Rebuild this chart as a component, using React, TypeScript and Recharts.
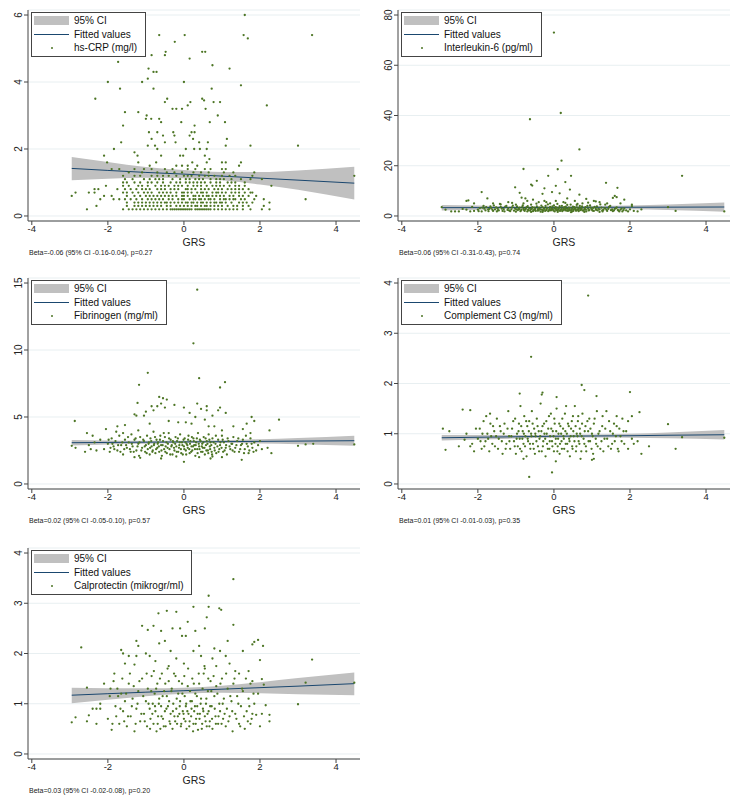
import React from 'react';
import { ComposedChart, Area, Line, Scatter, XAxis, YAxis, CartesianGrid } from 'recharts';

const FONT = '"Liberation Sans", Arial, Helvetica, sans-serif';
const DOT = '#4c7524';
const LINE = '#1a476f';
const BAND = '#c0c0c0';
const GRID = '#e8eff1';
const AXIS = '#444';

const grsTicks = [-4, -2, 0, 2, 4];
const fitX = [-2.95, -2, -1, 0, 1, 2, 3, 4.48];

// hs-CRP (mg/l)
const crpFit = [1.42, 1.36, 1.30, 1.25, 1.19, 1.13, 1.07, 0.98];
const crpLo = [1.07, 1.11, 1.14, 1.13, 1.07, 0.94, 0.78, 0.49];
const crpHi = [1.76, 1.61, 1.46, 1.37, 1.31, 1.31, 1.36, 1.47];
const crpUpper: number[][] = [
  [1.6, 6.0], [-0.65, 5.4], [0.02, 5.4], [1.57, 5.4], [3.37, 5.4], [1.68, 5.3], [-0.24, 5.2],
  [-0.48, 4.9], [-0.5, 4.8], [0.48, 4.9], [0.56, 4.9], [0.15, 4.7], [-0.85, 4.8], [-1.73, 4.6],
  [0.75, 4.5], [-0.93, 4.4], [-0.8, 4.3], [-0.72, 4.3], [1.2, 4.4], [-2.0, 4.0], [-1.1, 4.0],
  [-0.95, 4.1], [0.0, 4.0], [1.5, 3.9], [-1.68, 3.8], [-0.8, 3.8], [0.73, 3.8], [-2.33, 3.5],
  [-0.44, 3.5], [-0.5, 3.4], [0.17, 3.4], [0.48, 3.5], [0.53, 3.45], [0.78, 3.4], [0.95, 3.4],
  [2.18, 3.3], [-0.3, 3.2], [-0.2, 3.2], [-0.05, 3.2], [0.1, 3.3], [0.57, 3.2], [-1.55, 3.1],
  [-1.2, 3.1], [-0.98, 3.0], [-1.0, 2.9], [-0.86, 2.9], [-0.65, 2.9], [0.89, 3.0], [-1.6, 2.7],
  [-0.6, 2.8], [-0.07, 2.8], [0.28, 2.7], [0.68, 2.8], [1.08, 2.8], [-0.92, 2.5], [-0.7, 2.5],
  [-0.28, 2.5], [0.2, 2.5], [0.28, 2.5], [0.15, 2.4], [-1.65, 2.2], [-0.85, 2.3], [-0.55, 2.4],
  [-0.25, 2.4], [-0.5, 2.2], [0.24, 2.3], [0.4, 2.2], [0.63, 2.2], [1.13, 2.3], [-0.22, 2.2],
  [-1.84, 2.0], [-0.95, 2.1], [-0.76, 2.1], [-0.7, 2.0], [0.05, 2.0], [0.27, 2.0], [0.42, 2.0],
  [0.6, 2.0], [1.1, 2.1], [1.75, 2.1], [3.0, 2.1], [-2.1, 1.8], [-1.3, 1.9], [-1.22, 1.8],
  [-0.6, 1.8], [-0.1, 1.8], [-0.02, 1.8], [0.55, 1.8], [0.67, 1.7], [-2.02, 1.6], [-1.2, 1.6],
  [-0.9, 1.5], [-0.73, 1.6], [-0.2, 1.5], [0.1, 1.5], [0.22, 1.6], [0.6, 1.6], [1.0, 1.6],
  [1.1, 1.6], [1.5, 1.6], [1.45, 1.5], [-0.05, 1.5], [0.35, 1.5],
];
const crpRows: [number, number[]][] = [
  [0.2, [-2.55, -1.6, -1.45, -1.35, -1.25, -1.15, -1.05, -0.95, -0.85, -0.75, -0.65, -0.55, -0.45, -0.35, -0.3, -0.25, -0.2, -0.15, -0.1, -0.05, 0, 0.05, 0.1, 0.15, 0.2, 0.3, 0.35, 0.4, 0.45, 0.5, 0.55, 0.6, 0.65, 0.7, 0.8, 0.9, 1.0, 1.1, 1.2, 1.3, 1.4, 1.55, 1.75, 2.05, 2.25]],
  [0.3, [-2.3, -1.5, -1.3, -1.1, -0.9, -0.8, -0.6, -0.45, -0.2, 0.0, 0.2, 0.35, 0.45, 0.6, 0.8, 1.0, 1.15, 1.4, 1.7]],
  [0.3, [-1.2, -1.0, -0.7, -0.35, -0.1, 0.1, 0.3, 0.55, 0.7, 0.9, 1.3, 1.55, 2.1]],
  [0.4, [-1.3, -1.1, -1.0, -0.8, -0.6, -0.5, -0.35, -0.25, -0.05, 0.1, 0.25, 0.35, 0.5, 0.6, 0.7, 0.85, 1.0, 1.1, 1.25, 1.45, 1.55, 1.65, 1.8, 2.25]],
  [0.4, [-1.5, -1.2, -0.9, -0.7, -0.45, -0.15, 0.05, 0.2, 0.45, 0.8, 0.95]],
  [0.5, [-2.2, -1.85, -1.7, -1.4, -1.25, -1.1, -0.95, -0.75, -0.55, -0.4, -0.3, -0.15, 0.0, 0.15, 0.3, 0.45, 0.55, 0.7, 0.8, 0.95, 1.05, 1.2, 1.35, 1.5, 1.6, 1.85, 2.1, 3.2]],
  [0.5, [-1.55, -0.85, -0.65, -0.05, 0.25, 0.4, 0.65, 1.1, 1.3]],
  [0.6, [-2.95, -2.1, -1.9, -1.5, -1.3, -1.0, -0.8, -0.6, -0.4, -0.2, -0.05, 0.1, 0.25, 0.4, 0.5, 0.65, 0.85, 1.05, 1.3, 1.55, 1.7]],
  [0.6, [-1.15, -0.9, -0.7, -0.5, -0.3, 0.0, 0.3, 0.6, 0.75, 0.95, 1.2, 1.45, 1.9]],
  [0.7, [-2.85, -2.5, -2.35, -1.6, -1.35, -1.2, -1.05, -0.85, -0.65, -0.55, -0.35, -0.2, -0.05, 0.1, 0.2, 0.35, 0.5, 0.6, 0.75, 0.9, 1.1, 1.25, 1.45, 1.75, 1.8]],
  [0.7, [-1.5, -0.95, -0.45, 0.0, 0.45, 0.85, 1.0, 1.35, 1.6]],
  [0.8, [-2.35, -2.25, -1.75, -1.55, -1.25, -1.1, -0.9, -0.7, -0.5, -0.35, -0.15, 0.05, 0.2, 0.3, 0.45, 0.65, 0.8, 1.0, 1.15, 1.35, 1.55, 1.7]],
  [0.8, [-1.4, -1.0, -0.6, -0.25, 0.1, 0.55, 0.9, 1.25, 1.45]],
  [0.9, [-2.05, -1.45, -1.2, -0.95, -0.75, -0.6, -0.4, -0.25, -0.05, 0.1, 0.25, 0.45, 0.6, 0.75, 0.95, 1.2, 1.45, 1.6, 2.3]],
  [0.9, [-1.6, -1.1, -0.5, -0.15, 0.35, 0.85, 1.05, 1.35]],
  [1.0, [-1.6, -1.5, -1.15, -0.95, -0.85, -0.55, -0.35, -0.1, 0.05, 0.25, 0.45, 0.55, 0.7, 0.95, 1.15, 1.35, 1.6]],
  [1.0, [-1.3, -0.7, -0.2, 0.15, 0.35, 0.85, 1.25]],
  [1.1, [-1.35, -1.05, -0.9, -0.75, -0.55, -0.3, -0.1, 0.15, 0.3, 0.5, 0.7, 0.85, 1.05, 1.25, 1.5, 1.75, 2.05]],
  [1.1, [-1.55, -0.65, 0.05, 0.4, 0.95]],
  [1.2, [-1.6, -1.3, -1.15, -0.85, -0.55, -0.4, -0.2, 0.0, 0.2, 0.4, 0.55, 0.8, 1.0, 1.2, 1.8, 4.48]],
  [1.2, [-0.7, 0.1, 0.65, 1.35]],
  [1.3, [-1.45, -1.1, -0.7, -0.45, -0.25, -0.05, 0.25, 0.45, 0.65, 1.05, 1.3, 1.85]],
  [1.4, [-1.9, -1.7, -1.3, -1.05, -0.85, -0.5, -0.3, 0.1, 0.3, 0.55, 0.7, 1.0, 1.1]],
];

// Interleukin-6 (pg/ml)
const il6Fit = [3.30, 3.33, 3.36, 3.40, 3.44, 3.47, 3.51, 3.57];
const il6Lo = [2.2, 2.5, 2.8, 2.9, 2.9, 2.7, 2.4, 1.7];
const il6Hi = [4.4, 4.2, 3.9, 3.9, 4.0, 4.2, 4.6, 5.4];
const il6Points: number[][] = [
  [0.0, 73], [0.18, 41], [-0.63, 38.5], [0.67, 26.5], [0.2, 22], [-0.8, 18.7], [0.1, 18.6],
  [-0.15, 16], [0.45, 16], [3.37, 16], [-0.45, 14], [0.3, 13.5], [1.37, 13.2], [-0.6, 12.5],
  [-0.57, 12.1], [0.05, 12], [-1.02, 11.4], [-0.25, 11], [1.67, 11.2], [-1.9, 9.5], [-0.9, 9.2],
  [-0.05, 9.5], [0.15, 9.0], [-0.3, 8.8], [0.42, 10.5], [0.67, 8.5], [1.6, 8.0], [1.65, 7.5],
  [-0.85, 7.3], [-0.75, 7.0], [-1.75, 7.0], [0.35, 7.0], [0.85, 6.8], [1.55, 7.2], [1.85, 6.5],
  [-2.3, 6.0], [-2.25, 6.2], [-2.1, 5.0], [-1.6, 5.0], [-1.2, 5.5], [-0.7, 6.0], [-0.55, 6.5],
  [-0.4, 5.5], [-0.25, 6.0], [0.05, 6.0], [0.25, 5.5], [0.55, 6.0], [0.75, 5.0], [1.05, 6.0],
  [1.1, 5.8], [1.2, 5.5], [1.4, 5.0], [1.75, 5.0], [-1.4, 4.6], [-1.0, 4.5], [-0.1, 5.0],
  [2.05, 4.5], [1.35, 4.5], [3.0, 3.5], [3.2, 2.0], [4.48, 1.8], [-2.95, 3.5], [-2.85, 2.5],
  [-2.6, 1.8], [-2.5, 1.8], [-2.3, 2.5], [-2.2, 1.8],
  [-2.0, 2.5], [-1.95, 3.1], [-1.9, 1.8], [-1.85, 4.0], [-1.8, 2.2], [-1.78, 3.5], [-1.72, 1.9],
  [-1.7, 2.8], [-1.65, 3.2], [-1.6, 2.0], [-1.58, 4.2], [-1.55, 2.6], [-1.5, 1.8], [-1.48, 3.0],
  [-1.45, 2.2], [-1.4, 3.6], [-1.35, 2.0], [-1.32, 2.7], [-1.3, 1.8], [-1.25, 4.0], [-1.22, 2.4],
  [-1.2, 3.1], [-1.15, 1.9], [-1.12, 2.6], [-1.1, 3.4], [-1.05, 2.1], [-1.02, 2.9], [-1.0, 1.7],
  [-0.97, 3.8], [-0.95, 2.3], [-0.92, 2.7], [-0.9, 3.3], [-0.88, 1.9], [-0.85, 2.5], [-0.82, 4.2],
  [-0.8, 3.0], [-0.77, 2.0], [-0.75, 2.6], [-0.72, 3.5], [-0.7, 1.8], [-0.68, 2.4], [-0.65, 3.1],
  [-0.62, 2.1], [-0.6, 4.5], [-0.58, 2.8], [-0.55, 1.9], [-0.52, 3.3], [-0.5, 2.5], [-0.48, 2.0],
  [-0.45, 3.8], [-0.42, 2.7], [-0.4, 2.2], [-0.38, 3.0], [-0.35, 1.7], [-0.32, 2.5], [-0.3, 3.5],
  [-0.28, 2.1], [-0.25, 2.8], [-0.22, 4.0], [-0.2, 2.3], [-0.18, 3.2], [-0.15, 1.9], [-0.12, 2.6],
  [-0.1, 3.6], [-0.08, 2.2], [-0.05, 3.0], [-0.03, 2.5], [0.0, 4.2], [0.02, 1.8], [0.05, 2.8],
  [0.07, 3.3], [0.1, 2.1], [0.12, 2.6], [0.15, 3.9], [0.17, 2.3], [0.2, 3.0], [0.22, 1.9],
  [0.25, 2.7], [0.27, 3.5], [0.3, 2.2], [0.32, 2.9], [0.35, 4.4], [0.37, 2.0], [0.4, 2.6],
  [0.42, 3.2], [0.45, 2.3], [0.48, 1.8], [0.5, 3.7], [0.52, 2.5], [0.55, 2.9], [0.58, 2.1],
  [0.6, 3.4], [0.63, 2.4], [0.65, 1.9], [0.68, 4.0], [0.7, 2.7], [0.73, 3.1], [0.75, 2.2],
  [0.8, 2.6], [0.83, 3.5], [0.85, 1.8], [0.9, 2.9], [0.93, 2.3], [0.95, 4.2], [1.0, 2.5],
  [1.03, 3.2], [1.05, 2.0], [1.1, 2.8], [1.13, 3.8], [1.15, 2.2], [1.2, 2.6], [1.25, 3.3],
  [1.28, 1.8], [1.3, 2.4], [1.35, 3.0], [1.4, 2.0], [1.45, 3.6], [1.5, 2.3], [1.55, 1.9],
  [1.6, 2.8], [1.65, 3.4], [1.7, 2.1], [1.75, 2.5], [1.8, 1.8], [1.85, 3.0], [1.9, 2.2],
  [1.95, 1.8], [2.0, 2.6], [2.05, 3.9], [2.1, 2.0], [2.2, 1.8], [2.3, 2.6], [-2.1, 2.0],
  [-2.15, 3.6], [-2.4, 2.8], [-2.7, 1.8], [-0.3, 1.6], [0.1, 1.6], [0.45, 1.5], [-0.6, 1.6],
  [0.8, 1.6], [1.2, 1.6],
  [-1.52, 3.4], [-1.47, 2.3], [-1.42, 4.8], [-1.37, 2.9], [-1.28, 3.7], [-1.18, 2.2], [-1.08, 4.1],
  [-0.99, 2.6], [-0.93, 3.0], [-0.87, 2.2], [-0.83, 3.6], [-0.79, 2.4], [-0.74, 2.9], [-0.69, 3.9],
  [-0.66, 2.2], [-0.61, 2.7], [-0.57, 3.5], [-0.53, 2.3], [-0.49, 2.9], [-0.46, 4.9], [-0.43, 2.1],
  [-0.39, 3.3], [-0.36, 2.6], [-0.33, 4.1], [-0.29, 2.3], [-0.26, 3.1], [-0.23, 2.0], [-0.19, 2.7],
  [-0.16, 4.6], [-0.13, 2.2], [-0.11, 3.0], [-0.07, 2.5], [-0.04, 3.8], [-0.01, 2.1], [0.01, 2.9],
  [0.04, 3.5], [0.06, 2.3], [0.09, 4.8], [0.11, 2.7], [0.14, 3.2], [0.16, 2.0], [0.19, 2.5],
  [0.21, 4.0], [0.24, 2.3], [0.26, 3.0], [0.29, 2.6], [0.31, 3.7], [0.34, 2.1], [0.36, 2.8],
  [0.39, 3.3], [0.41, 2.2], [0.44, 4.5], [0.47, 2.7], [0.49, 3.0], [0.51, 2.0], [0.54, 3.5],
  [0.57, 2.6], [0.59, 2.2], [0.62, 4.8], [0.64, 2.8], [0.67, 3.2], [0.69, 2.3], [0.72, 2.6],
  [0.74, 3.8], [0.78, 2.1], [0.81, 3.0], [0.84, 2.5], [0.88, 4.0], [0.91, 2.2], [0.96, 3.3],
  [0.99, 2.7], [1.02, 2.1], [1.07, 3.6], [1.11, 2.4], [1.17, 2.9], [1.22, 4.6], [1.27, 2.2],
  [1.33, 3.1], [1.38, 2.5], [1.43, 2.8], [1.48, 4.0], [1.53, 2.6], [1.58, 2.2], [1.63, 3.1],
  [1.68, 2.4], [1.72, 1.8], [1.78, 2.9], [1.83, 2.3], [-1.62, 2.5], [-1.67, 3.8], [-1.73, 2.6],
  [-1.83, 2.9], [-1.88, 3.3], [-1.98, 1.9], [-0.2, 5.5], [0.3, 5.2], [-0.8, 5.0], [0.9, 5.3],
  [-1.1, 5.2], [0.6, 4.4],
];

// Fibrinogen (mg/ml)
const fibFit = [3.08, 3.10, 3.12, 3.14, 3.16, 3.18, 3.20, 3.23];
const fibLo = [2.88, 2.95, 3.01, 3.05, 3.05, 3.02, 2.97, 2.86];
const fibHi = [3.28, 3.25, 3.23, 3.23, 3.27, 3.34, 3.43, 3.60];
const fibPoints: number[][] = [
  [0.35, 14.5], [0.25, 10.5], [-0.95, 8.3], [0.4, 7.9], [1.08, 7.6], [-1.18, 7.4], [0.95, 7.2],
  [2.5, 4.8], [-2.87, 4.7], [-0.65, 6.5], [-0.55, 6.4], [-0.45, 6.3], [-0.6, 6.0], [-1.22, 6.05],
  [0.35, 6.0], [-0.25, 5.9], [0.6, 5.8], [0.45, 5.6], [0.9, 5.5], [-0.85, 5.8], [0.95, 5.7],
  [0.0, 5.7], [-0.5, 5.7], [-0.7, 5.8], [-1.0, 5.4], [-0.8, 5.5], [-1.3, 5.2], [-1.25, 5.1],
  [-1.05, 5.1], [0.6, 5.5], [0.15, 5.3], [0.3, 5.0], [0.75, 5.1], [1.1, 5.3], [1.78, 5.0],
  [1.85, 4.7], [-2.05, 4.1], [-1.75, 4.3], [-1.55, 4.4], [-1.2, 4.0], [-0.4, 4.7], [-0.15, 4.6],
  [0.05, 4.6], [0.2, 4.5], [0.55, 4.8], [0.8, 4.3], [1.0, 4.0], [1.3, 4.3], [1.55, 4.1],
  [2.25, 4.0], [-2.55, 3.8], [-2.4, 3.6], [-0.9, 4.5], [0.65, 4.3], [1.65, 4.5], [-1.6, 3.8],
  [1.75, 3.8], [3.0, 2.85], [3.2, 2.95], [3.4, 3.0], [4.48, 2.95], [2.3, 2.3], [2.2, 2.7],
  [2.05, 2.6], [-2.95, 2.85], [-2.85, 2.7], [-2.6, 2.4], [-2.5, 2.9], [-2.45, 2.6], [0.0, 1.65],
  [1.52, 1.8], [-1.15, 1.95], [0.7, 1.9],
  [-2.0, 3.0], [-1.95, 2.4], [-1.9, 3.4], [-1.85, 2.8], [-1.8, 3.2], [-1.75, 2.5], [-1.7, 3.6],
  [-1.65, 2.9], [-1.6, 2.2], [-1.55, 3.3], [-1.5, 2.7], [-1.45, 3.1], [-1.4, 2.4], [-1.38, 3.7],
  [-1.35, 2.8], [-1.3, 3.3], [-1.25, 2.5], [-1.2, 3.0], [-1.18, 2.1], [-1.15, 3.5], [-1.1, 2.7],
  [-1.05, 3.2], [-1.02, 2.4], [-1.0, 2.9], [-0.97, 3.6], [-0.95, 2.6], [-0.92, 3.1], [-0.9, 2.2],
  [-0.88, 3.4], [-0.85, 2.8], [-0.82, 2.5], [-0.8, 3.9], [-0.78, 3.0], [-0.75, 2.3], [-0.72, 3.3],
  [-0.7, 2.7], [-0.68, 3.1], [-0.65, 2.4], [-0.62, 3.6], [-0.6, 2.9], [-0.58, 2.1], [-0.55, 3.2],
  [-0.52, 2.6], [-0.5, 3.5], [-0.48, 2.8], [-0.45, 2.3], [-0.42, 3.0], [-0.4, 3.8], [-0.38, 2.6],
  [-0.35, 3.3], [-0.32, 2.9], [-0.3, 2.2], [-0.28, 3.1], [-0.25, 2.5], [-0.22, 3.5], [-0.2, 2.8],
  [-0.18, 3.2], [-0.15, 2.4], [-0.12, 2.9], [-0.1, 3.7], [-0.08, 2.6], [-0.05, 3.1], [-0.03, 2.2],
  [0.0, 2.8], [0.02, 3.4], [0.05, 2.5], [0.07, 3.0], [0.1, 2.7], [0.12, 3.6], [0.15, 2.3],
  [0.17, 3.2], [0.2, 2.8], [0.22, 2.5], [0.25, 3.4], [0.27, 2.9], [0.3, 2.1], [0.32, 3.1],
  [0.35, 2.6], [0.37, 3.8], [0.4, 2.8], [0.42, 3.3], [0.45, 2.4], [0.48, 3.0], [0.5, 2.7],
  [0.52, 3.5], [0.55, 2.2], [0.58, 2.9], [0.6, 3.2], [0.63, 2.5], [0.65, 3.7], [0.68, 2.8],
  [0.7, 3.1], [0.73, 2.4], [0.75, 3.4], [0.8, 2.7], [0.83, 3.0], [0.85, 2.3], [0.9, 3.3],
  [0.93, 2.6], [0.95, 2.9], [1.0, 3.6], [1.03, 2.4], [1.05, 3.1], [1.1, 2.7], [1.13, 2.2],
  [1.15, 3.4], [1.2, 2.8], [1.25, 3.0], [1.28, 2.5], [1.3, 3.5], [1.35, 2.7], [1.4, 3.2],
  [1.45, 2.4], [1.5, 2.9], [1.55, 3.3], [1.6, 2.6], [1.65, 3.0], [1.7, 2.3], [1.75, 3.4],
  [1.8, 2.7], [1.85, 3.1], [1.9, 2.5], [1.95, 2.9], [2.0, 3.2], [-2.1, 2.6], [-2.2, 3.3],
  [-2.3, 2.5], [-2.35, 3.1], [-1.3, 2.0], [-0.6, 1.9], [0.4, 2.0], [1.0, 2.0], [-0.2, 2.05],
  [0.75, 2.05],
  [-1.52, 2.9], [-1.47, 3.5], [-1.42, 2.6], [-1.37, 3.0], [-1.32, 2.4], [-1.27, 3.4], [-1.22, 2.8],
  [-1.17, 3.1], [-1.12, 2.5], [-1.07, 3.3], [-1.03, 2.8], [-0.98, 2.3], [-0.93, 3.0], [-0.89, 2.7],
  [-0.86, 3.2], [-0.83, 2.4], [-0.79, 2.9], [-0.76, 3.5], [-0.73, 2.6], [-0.69, 3.0], [-0.66, 2.8],
  [-0.63, 3.3], [-0.59, 2.5], [-0.56, 2.9], [-0.53, 3.8], [-0.49, 2.4], [-0.46, 3.1], [-0.43, 2.7],
  [-0.39, 3.4], [-0.36, 2.2], [-0.33, 2.8], [-0.29, 3.2], [-0.26, 2.7], [-0.23, 3.0], [-0.19, 2.4],
  [-0.16, 3.4], [-0.13, 2.7], [-0.11, 3.1], [-0.07, 2.3], [-0.04, 2.9], [-0.01, 3.3], [0.01, 2.6],
  [0.04, 3.1], [0.06, 2.2], [0.09, 2.9], [0.11, 3.3], [0.14, 2.6], [0.16, 3.0], [0.19, 2.4],
  [0.21, 3.5], [0.24, 2.8], [0.26, 3.2], [0.29, 2.6], [0.31, 2.9], [0.34, 3.4], [0.36, 2.3],
  [0.39, 3.0], [0.41, 2.6], [0.44, 3.2], [0.47, 2.8], [0.49, 2.4], [0.51, 3.1], [0.54, 2.7],
  [0.57, 3.4], [0.59, 2.5], [0.62, 3.0], [0.64, 2.3], [0.67, 3.3], [0.69, 2.6], [0.72, 2.9],
  [0.74, 2.2], [0.78, 3.1], [0.81, 2.5], [0.84, 3.6], [0.88, 2.8], [0.91, 2.4], [0.96, 3.1],
  [0.99, 2.7], [1.02, 3.3], [1.07, 2.5], [1.11, 2.9], [1.17, 3.2], [1.22, 2.6], [1.27, 3.0],
  [1.33, 2.4], [1.38, 2.9], [1.43, 3.4], [1.48, 2.6], [1.53, 3.0], [1.58, 2.3], [1.63, 3.6],
  [1.68, 2.8], [1.72, 2.5], [1.78, 3.0], [1.83, 2.4], [-1.57, 2.6], [-1.62, 3.1], [-1.67, 2.4],
  [-1.73, 2.9], [-1.78, 3.9], [-1.83, 2.6], [-1.88, 3.0], [-1.93, 2.7], [-1.98, 3.3],
];

// Complement C3 (mg/ml)
const c3Fit = [0.92, 0.93, 0.94, 0.95, 0.955, 0.96, 0.97, 0.98];
const c3Lo = [0.865, 0.885, 0.905, 0.92, 0.925, 0.92, 0.91, 0.885];
const c3Hi = [0.975, 0.975, 0.975, 0.98, 0.985, 1.0, 1.025, 1.075];
const c3Points: number[][] = [
  [0.9, 3.75], [-0.6, 2.53], [0.73, 1.97], [0.8, 1.87], [2.0, 1.83], [-0.9, 1.8], [-0.3, 1.82],
  [-0.32, 1.78], [0.07, 1.73], [1.12, 1.75], [-0.05, 0.23], [-0.65, 0.14], [3.0, 1.19],
  [3.2, 0.7], [3.37, 0.93], [4.48, 0.92], [2.25, 1.43], [2.5, 0.75], [2.3, 0.6], [-2.4, 1.48],
  [-2.2, 1.47], [-2.92, 1.1], [-2.85, 0.68], [-2.75, 1.05], [-2.5, 0.75], [-2.35, 0.88],
  [-2.0, 0.9], [-1.95, 1.1], [-1.9, 0.7], [-1.85, 1.25], [-1.8, 0.85], [-1.75, 1.0], [-1.7, 0.65],
  [-1.68, 1.4], [-1.65, 0.95], [-1.6, 1.15], [-1.55, 0.75], [-1.5, 1.3], [-1.45, 0.9], [-1.4, 1.05],
  [-1.35, 0.6], [-1.3, 1.2], [-1.25, 0.8], [-1.2, 1.45], [-1.18, 0.95], [-1.15, 0.7], [-1.1, 1.1],
  [-1.05, 0.85], [-1.02, 1.3], [-1.0, 0.6], [-0.97, 1.0], [-0.95, 0.75], [-0.92, 1.2], [-0.9, 0.9],
  [-0.88, 1.55], [-0.85, 0.65], [-0.82, 1.05], [-0.8, 0.8], [-0.78, 1.35], [-0.75, 0.95],
  [-0.72, 0.55], [-0.7, 1.15], [-0.68, 0.85], [-0.65, 1.25], [-0.62, 0.7], [-0.6, 1.0],
  [-0.58, 1.45], [-0.55, 0.8], [-0.52, 1.1], [-0.5, 0.6], [-0.48, 0.95], [-0.45, 1.3],
  [-0.42, 0.75], [-0.4, 1.05], [-0.38, 0.9], [-0.35, 1.6], [-0.32, 0.65], [-0.3, 1.15],
  [-0.28, 0.85], [-0.25, 1.0], [-0.22, 0.55], [-0.2, 1.25], [-0.18, 0.8], [-0.15, 1.1],
  [-0.12, 0.7], [-0.1, 0.95], [-0.08, 1.4], [-0.05, 0.85], [-0.03, 1.05], [0.0, 0.65], [0.02, 1.2],
  [0.05, 0.9], [0.07, 1.5], [0.1, 0.75], [0.12, 1.0], [0.15, 0.6], [0.17, 1.15], [0.2, 0.85],
  [0.22, 1.3], [0.25, 0.95], [0.27, 0.7], [0.3, 1.05], [0.32, 1.55], [0.35, 0.8], [0.37, 1.2],
  [0.4, 0.9], [0.42, 0.55], [0.45, 1.1], [0.48, 0.75], [0.5, 1.35], [0.52, 0.95], [0.55, 1.55],
  [0.58, 0.65], [0.6, 1.0], [0.63, 1.25], [0.65, 0.85], [0.68, 1.1], [0.7, 0.5], [0.73, 0.95],
  [0.75, 1.4], [0.8, 0.8], [0.83, 1.15], [0.85, 0.65], [0.9, 1.05], [0.93, 1.3], [0.95, 0.85],
  [1.0, 1.0], [1.03, 0.6], [1.05, 1.2], [1.1, 0.9], [1.13, 1.45], [1.15, 0.75], [1.2, 1.05],
  [1.25, 0.85], [1.28, 1.35], [1.3, 0.65], [1.35, 1.1], [1.4, 0.9], [1.45, 1.25], [1.5, 0.7],
  [1.55, 1.0], [1.6, 0.85], [1.65, 1.15], [1.7, 0.65], [1.75, 0.95], [1.8, 1.3], [1.85, 0.8],
  [1.9, 1.05], [1.95, 0.7], [2.05, 0.9], [2.1, 0.8], [2.2, 0.85], [-2.1, 0.65], [-2.05, 1.1],
  [-2.15, 0.8], [-2.3, 1.0], [-2.2, 0.75], [1.0, 0.48], [1.05, 0.5], [0.05, 0.45], [-0.8, 0.5],
  [1.65, 1.35], [1.95, 1.25], [2.05, 1.35],
  [-1.52, 0.95], [-1.47, 0.7], [-1.42, 1.15], [-1.37, 0.85], [-1.32, 1.0], [-1.27, 0.7], [-1.22, 1.1],
  [-1.17, 0.85], [-1.12, 0.95], [-1.07, 1.25], [-1.03, 0.75], [-0.98, 0.9], [-0.93, 1.05], [-0.89, 0.7],
  [-0.86, 1.15], [-0.83, 0.9], [-0.79, 1.0], [-0.76, 0.75], [-0.73, 1.25], [-0.69, 0.9], [-0.66, 1.05],
  [-0.63, 0.8], [-0.59, 0.95], [-0.56, 1.2], [-0.53, 0.7], [-0.49, 1.0], [-0.46, 0.85], [-0.43, 1.15],
  [-0.39, 0.65], [-0.36, 0.95], [-0.33, 1.05], [-0.29, 0.75], [-0.26, 1.2], [-0.23, 0.9], [-0.19, 1.0],
  [-0.16, 0.7], [-0.13, 1.35], [-0.11, 0.85], [-0.07, 1.1], [-0.04, 0.75], [-0.01, 0.95], [0.01, 1.3],
  [0.04, 0.8], [0.06, 1.05], [0.09, 0.65], [0.11, 0.9], [0.14, 1.2], [0.16, 0.8], [0.19, 1.0],
  [0.21, 0.7], [0.24, 1.1], [0.26, 0.9], [0.29, 1.4], [0.31, 0.8], [0.34, 1.0], [0.36, 0.65],
  [0.39, 1.15], [0.41, 0.85], [0.44, 0.95], [0.47, 1.25], [0.49, 0.7], [0.51, 1.05], [0.54, 0.85],
  [0.57, 1.15], [0.59, 0.75], [0.62, 0.95], [0.64, 1.35], [0.67, 0.8], [0.69, 1.0], [0.72, 0.65],
  [0.74, 1.2], [0.78, 0.9], [0.81, 1.05], [0.84, 0.75], [0.88, 1.25], [0.91, 0.85], [0.96, 1.1],
  [0.99, 0.7], [1.02, 0.95], [1.07, 1.3], [1.11, 0.8], [1.17, 1.0], [1.22, 0.7], [1.27, 1.15],
  [1.33, 0.9], [1.38, 1.45], [1.43, 0.75], [1.48, 1.05], [1.53, 0.8], [1.58, 1.2], [1.63, 0.95],
  [1.68, 0.7], [1.72, 1.1], [1.78, 0.85], [1.83, 1.05], [-1.57, 1.05], [-1.62, 0.8], [-1.67, 1.2],
  [-1.73, 0.9], [-1.78, 1.35], [-1.83, 0.75], [-1.88, 1.0], [-1.93, 0.85],
];

// Calprotectin (mikrogr/ml)
const calFit = [1.17, 1.20, 1.23, 1.26, 1.29, 1.32, 1.35, 1.40];
const calLo = [1.01, 1.08, 1.15, 1.20, 1.22, 1.21, 1.19, 1.17];
const calHi = [1.32, 1.31, 1.31, 1.32, 1.36, 1.43, 1.51, 1.62];
const calPoints: number[][] = [
  [1.3, 3.48], [0.65, 3.15], [0.65, 2.93], [0.25, 2.93], [0.93, 2.9], [0.98, 2.87], [-0.2, 2.83],
  [-0.45, 2.85], [-0.67, 2.8], [1.3, 2.57], [-2.7, 2.12], [3.37, 1.88], [3.2, 1.42], [3.0, 0.99],
  [4.48, 1.42], [-2.95, 0.63], [-2.85, 0.73], [-2.55, 1.32], [-2.55, 0.65], [-2.5, 0.77],
  [-2.4, 0.9], [-2.3, 0.9], [-2.3, 0.6], [-2.2, 1.0], [-2.2, 0.9], [-2.1, 1.4], [2.25, 0.78],
  [2.25, 0.65], [2.15, 0.97], [2.05, 1.49], [2.08, 2.15], [1.95, 2.27], [1.85, 2.23], [1.8, 2.18],
  [2.0, 1.87], [-1.25, 2.25], [-1.2, 2.15], [-1.1, 2.55], [-0.95, 2.47], [-0.8, 2.55],
  [-0.6, 2.45], [-0.3, 2.5], [-0.1, 2.5], [0.1, 2.63], [0.3, 2.45], [0.55, 2.5], [0.6, 2.72],
  [-0.5, 2.25], [-0.05, 2.35], [0.05, 2.35], [0.4, 2.15], [0.8, 2.1], [0.95, 2.05], [1.15, 2.25],
  [1.55, 2.05], [-1.65, 2.07], [-1.6, 2.0], [-1.45, 1.95], [-1.25, 1.95], [-1.0, 2.0],
  [-0.9, 1.95], [-0.65, 2.2], [-0.35, 2.05], [-0.2, 1.9], [0.25, 2.05], [0.45, 1.95],
  [0.75, 1.9], [1.1, 1.95], [1.2, 1.8], [-1.55, 1.8], [-1.3, 1.78], [-0.75, 1.85], [-0.4, 1.75],
  [0.0, 1.8], [0.55, 1.7], [0.85, 1.75], [1.35, 1.65], [1.45, 1.6], [1.7, 1.65], [1.75, 1.4],
  [1.8, 1.45], [2.1, 1.38],
  [-2.0, 0.7], [-1.95, 1.15], [-1.9, 0.48], [-1.85, 1.45], [-1.8, 0.95], [-1.75, 1.3], [-1.7, 0.6],
  [-1.65, 1.2], [-1.6, 0.85], [-1.55, 1.05], [-1.5, 0.55], [-1.45, 1.4], [-1.4, 0.75],
  [-1.35, 1.1], [-1.3, 0.45], [-1.25, 0.9], [-1.2, 1.25], [-1.15, 0.65], [-1.1, 1.5], [-1.05, 0.8],
  [-1.0, 1.05], [-0.97, 0.55], [-0.95, 1.3], [-0.9, 0.9], [-0.88, 0.7], [-0.85, 1.55], [-0.82, 1.0],
  [-0.8, 0.6], [-0.77, 1.2], [-0.75, 0.85], [-0.72, 0.45], [-0.7, 1.4], [-0.68, 0.75], [-0.65, 1.1],
  [-0.62, 0.5], [-0.6, 0.95], [-0.58, 1.6], [-0.55, 0.7], [-0.52, 1.25], [-0.5, 0.85], [-0.48, 0.55],
  [-0.45, 1.15], [-0.42, 0.95], [-0.4, 1.45], [-0.38, 0.65], [-0.35, 0.8], [-0.32, 1.3], [-0.3, 0.5],
  [-0.28, 1.0], [-0.25, 0.75], [-0.22, 1.55], [-0.2, 0.9], [-0.18, 0.6], [-0.15, 1.2], [-0.12, 0.8],
  [-0.1, 1.05], [-0.08, 0.55], [-0.05, 1.4], [-0.03, 0.85], [0.0, 0.7], [0.02, 1.15], [0.05, 0.95],
  [0.07, 0.5], [0.1, 1.35], [0.12, 0.8], [0.15, 0.65], [0.17, 1.05], [0.2, 0.9], [0.22, 1.5],
  [0.25, 0.6], [0.27, 0.85], [0.3, 1.2], [0.32, 0.7], [0.35, 0.95], [0.37, 0.48], [0.4, 1.4],
  [0.42, 0.8], [0.45, 1.1], [0.48, 0.6], [0.5, 0.9], [0.52, 1.6], [0.55, 0.75], [0.58, 1.0],
  [0.6, 0.55], [0.63, 1.25], [0.65, 0.85], [0.68, 0.65], [0.7, 1.45], [0.73, 0.95], [0.75, 0.5],
  [0.8, 1.15], [0.83, 0.75], [0.85, 1.35], [0.9, 0.6], [0.93, 1.0], [0.95, 0.85], [1.0, 1.5],
  [1.03, 0.7], [1.05, 1.1], [1.1, 0.55], [1.13, 0.9], [1.15, 1.3], [1.2, 0.75], [1.25, 1.05],
  [1.28, 0.45], [1.3, 1.4], [1.35, 0.8], [1.4, 1.15], [1.45, 0.6], [1.5, 0.95], [1.55, 1.25],
  [1.6, 0.5], [1.65, 0.85], [1.7, 1.1], [1.75, 0.6], [1.8, 0.8], [1.85, 1.0], [1.9, 0.78],
  [1.95, 1.2], [2.0, 0.55], [2.05, 0.8],
  [-1.52, 1.2], [-1.47, 0.75], [-1.42, 1.6], [-1.37, 0.95], [-1.32, 1.35], [-1.27, 0.6], [-1.22, 1.0],
  [-1.17, 1.45], [-1.12, 0.8], [-1.07, 1.15], [-1.03, 0.65], [-0.98, 1.6], [-0.93, 1.0], [-0.89, 0.5],
  [-0.86, 1.25], [-0.83, 0.8], [-0.79, 1.65], [-0.76, 0.95], [-0.73, 1.3], [-0.69, 0.6], [-0.66, 1.0],
  [-0.63, 1.5], [-0.59, 0.75], [-0.56, 1.15], [-0.53, 0.55], [-0.49, 1.4], [-0.46, 0.9], [-0.43, 1.7],
  [-0.39, 1.05], [-0.36, 0.6], [-0.33, 1.25], [-0.29, 0.85], [-0.26, 1.6], [-0.23, 0.65], [-0.19, 1.1],
  [-0.16, 0.75], [-0.13, 1.45], [-0.11, 0.95], [-0.07, 0.6], [-0.04, 1.2], [-0.01, 0.8], [0.01, 1.55],
  [0.04, 0.65], [0.06, 1.0], [0.09, 0.85], [0.11, 1.7], [0.14, 0.55], [0.16, 1.25], [0.19, 0.75],
  [0.21, 1.05], [0.24, 0.45], [0.26, 1.4], [0.29, 0.95], [0.31, 0.6], [0.34, 1.15], [0.36, 0.8],
  [0.39, 1.6], [0.41, 0.7], [0.44, 1.0], [0.47, 0.5], [0.49, 1.3], [0.51, 0.85], [0.54, 1.75],
  [0.57, 0.65], [0.59, 1.1], [0.62, 0.8], [0.64, 1.5], [0.67, 0.55], [0.69, 0.95], [0.72, 1.25],
  [0.74, 0.7], [0.78, 1.55], [0.81, 0.9], [0.84, 0.6], [0.88, 1.2], [0.91, 0.75], [0.96, 1.4],
  [0.99, 0.6], [1.02, 1.0], [1.07, 0.8], [1.11, 1.6], [1.17, 0.65], [1.22, 1.15], [1.27, 0.85],
  [1.33, 1.5], [1.38, 0.7], [1.43, 1.0], [1.48, 0.55], [1.53, 1.3], [1.58, 0.75], [1.63, 1.5],
  [1.68, 0.65], [1.72, 0.95], [1.78, 0.7], [1.83, 1.2], [-1.57, 0.65], [-1.62, 1.5], [-1.67, 0.9],
  [-1.73, 1.15], [-1.78, 0.75], [-1.83, 1.6], [-1.88, 0.6], [-1.93, 1.3],
];

const toXY = (pts: number[][]) => pts.map(([x, y]) => ({ x, y }));
const crpPoints = [...crpUpper, ...crpRows.flatMap(([y, xs]) => xs.map((x) => [x, y]))];

const YTick = (props: any) => {
  const { x, y, payload } = props;
  return (
    <text x={x} y={y} transform={`rotate(-90 ${x} ${y})`} textAnchor="middle" fontSize={10} fontFamily={FONT} fill="#222">
      {payload.value}
    </text>
  );
};

const Dot = (props: any) => <circle cx={props.cx} cy={props.cy} r={1.15} fill={DOT} />;

interface PanelProps {
  left: number;
  top: number;
  points: number[][];
  fit: number[];
  lo: number[];
  hi: number[];
  yTicks: number[];
  label: string;
  beta: string;
}

function Panel({ left, top, points, fit, lo, hi, yTicks, label, beta }: PanelProps) {
  const yMax = yTicks[yTicks.length - 1];
  const pad = yMax * 0.025;
  const fitted = fitX.map((x, i) => ({ x, fit: fit[i], band: [lo[i], hi[i]] }));
  return (
    <div style={{ position: 'absolute', left, top, width: 370, height: 268 }}>
      <ComposedChart width={370} height={265} margin={{ top: 10, right: 10, left: 8, bottom: 22 }}>
        <CartesianGrid vertical={false} stroke={GRID} />
        <XAxis
          type="number"
          dataKey="x"
          domain={[-4.1, 4.63]}
          ticks={grsTicks}
          height={22}
          stroke={AXIS}
          tickSize={4}
          tickMargin={0}
          tick={{ fontSize: 9.5, fontFamily: FONT, fill: '#222' }}
          label={{ value: 'GRS', position: 'insideBottom', offset: -3, fontSize: 10.5, fontFamily: FONT, fill: '#222' }}
        />
        <YAxis
          type="number"
          dataKey="y"
          domain={[-pad, yMax + pad]}
          ticks={yTicks}
          width={20}
          stroke={AXIS}
          tickSize={4}
          tickMargin={2}
          tick={<YTick />}
        />
        <Area data={fitted} dataKey="band" type="monotone" stroke="none" fill={BAND} fillOpacity={1} isAnimationActive={false} />
        <Line data={fitted} dataKey="fit" type="linear" stroke={LINE} strokeWidth={1} dot={false} isAnimationActive={false} />
        <Scatter data={toXY(points)} shape={<Dot />} isAnimationActive={false} />
      </ComposedChart>
      <div
        style={{
          position: 'absolute', left: 31, top: 12, border: `1px solid ${AXIS}`, background: '#fff',
          padding: '1px 8px 1px 2px', fontFamily: FONT, fontSize: 10, color: '#111', lineHeight: '13.5px',
        }}
      >
        <div style={{ display: 'flex', alignItems: 'center' }}>
          <span style={{ width: 35, height: 9, background: BAND, marginRight: 5 }} />
          95% CI
        </div>
        <div style={{ display: 'flex', alignItems: 'center' }}>
          <span style={{ width: 35, height: 1, background: LINE, marginRight: 5 }} />
          Fitted values
        </div>
        <div style={{ display: 'flex', alignItems: 'center' }}>
          <span style={{ width: 35, marginRight: 5, display: 'flex', justifyContent: 'center' }}>
            <span style={{ width: 2, height: 2, borderRadius: 1, background: DOT }} />
          </span>
          {label}
        </div>
      </div>
      <div style={{ position: 'absolute', left: 29, top: 249, fontFamily: FONT, fontSize: 7, color: '#222', whiteSpace: 'nowrap' }}>
        {beta}
      </div>
    </div>
  );
}

export default function App() {
  return (
    <div style={{ position: 'absolute', left: 0, top: 0, width: 741, height: 808, background: '#fff' }}>
      <Panel left={0} top={0} points={crpPoints} fit={crpFit} lo={crpLo} hi={crpHi} yTicks={[0, 2, 4, 6]}
        label="hs-CRP (mg/l)" beta="Beta=-0.06 (95% CI -0.16-0.04), p=0.27" />
      <Panel left={370} top={0} points={il6Points} fit={il6Fit} lo={il6Lo} hi={il6Hi} yTicks={[0, 20, 40, 60, 80]}
        label="Interleukin-6 (pg/ml)" beta="Beta=0.06 (95% CI -0.31-0.43), p=0.74" />
      <Panel left={0} top={268} points={fibPoints} fit={fibFit} lo={fibLo} hi={fibHi} yTicks={[0, 5, 10, 15]}
        label="Fibrinogen (mg/ml)" beta="Beta=0.02 (95% CI -0.05-0.10), p=0.57" />
      <Panel left={370} top={268} points={c3Points} fit={c3Fit} lo={c3Lo} hi={c3Hi} yTicks={[0, 1, 2, 3, 4]}
        label="Complement C3 (mg/ml)" beta="Beta=0.01 (95% CI -0.01-0.03), p=0.35" />
      <Panel left={0} top={538} points={calPoints} fit={calFit} lo={calLo} hi={calHi} yTicks={[0, 1, 2, 3, 4]}
        label="Calprotectin (mikrogr/ml)" beta="Beta=0.03 (95% CI -0.02-0.08), p=0.20" />
    </div>
  );
}
